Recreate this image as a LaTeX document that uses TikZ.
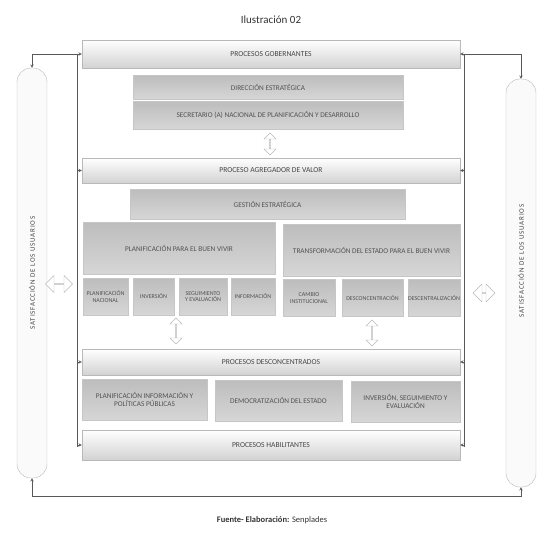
\documentclass[tikz,border=0pt]{standalone}
\usepackage{fontspec}
\setmainfont{Carlito}
\usetikzlibrary{shapes.arrows, arrows, positioning}
\tikzstyle{band} = [rectangle, minimum width=378pt, draw=gray!55, top color=white, middle color=white, bottom color=gray!35, text=black!72, font=\fontsize{7.6}{8}\selectfont, inner sep=0pt]
\tikzstyle{box} = [rectangle, draw=gray!45, top color=gray!52, bottom color=gray!32, text=black!68, align=center, inner sep=1pt, font=\fontsize{7.3}{8}\selectfont]
\tikzstyle{small} = [box, minimum height=37pt, inner sep=0pt, font=\fontsize{6}{6.8}\selectfont]
\tikzstyle{wide} = [box, minimum height=41pt, font=\fontsize{7.3}{8.8}\selectfont]
\tikzstyle{pill} = [rectangle, rounded corners=14pt, minimum width=30pt, draw=gray!55, fill=gray!4]
\tikzstyle{sidetext} = [rotate=90, text=black!72, font=\fontsize{7}{8}\selectfont\addfontfeatures{LetterSpace=12}]
\tikzstyle{twoway} = [double arrow, draw=gray!55, fill=white, inner sep=0pt, double arrow head extend=2.5pt]
\tikzstyle{arrow} = [->, >=stealth, draw=black!65, line width=0.5pt]

\begin{document}
\begin{tikzpicture}[x=1pt, y=-1pt]
    \useasboundingbox (0,0) rectangle (538,546);

    \node (title) at (271,20) [font=\fontsize{11}{12}\selectfont, text=black!80] {Ilustración 02};

    % bands
    \node (gob) [band, minimum height=28pt] at (271,54) {PROCESOS GOBERNANTES};
    \node (agr) [band, minimum height=25pt] at (271,170.5) {PROCESO AGREGADOR DE VALOR};
    \node (dsc) [band, minimum height=26pt] at (271,362) {PROCESOS DESCONCENTRADOS};
    \node (hab) [band, minimum height=30pt] at (271,445) {PROCESOS HABILITANTES};

    % procesos gobernantes
    \node (dir) [box, minimum width=270pt, minimum height=24pt] at (268,87) {DIRECCIÓN ESTRATÉGICA};
    \node (sec) [box, minimum width=270pt, minimum height=28pt] at (268,115) {SECRETARIO (A) NACIONAL DE PLANIFICACIÓN Y DESARROLLO};
    \node (ud1) [twoway, rotate=90, minimum height=22pt, minimum width=12pt] at (270,144) {};

    % agregador de valor
    \node (ges) [box, minimum width=275pt, minimum height=30pt] at (267.5,204) {GESTIÓN ESTRATÉGICA};
    \node (pbv) [box, minimum width=192pt, minimum height=52pt] at (179,248) {PLANIFICACIÓN PARA EL BUEN VIVIR};
    \node (tbv) [box, minimum width=177pt, minimum height=52pt] at (371.5,250) {TRANSFORMACIÓN DEL ESTADO PARA EL BUEN VIVIR};

    \node (pn) [small, minimum width=45pt] at (105.5,296.5) {PLANIFICACIÓN\\NACIONAL};
    \node (inv) [small, minimum width=41pt] at (153.5,296.5) {INVERSIÓN};
    \node (seg) [small, minimum width=48pt] at (203,296.5) {SEGUIMIENTO\\Y EVALUACIÓN};
    \node (inf) [small, minimum width=44pt] at (253,296.5) {INFORMACIÓN};
    \node (cam) [small, minimum width=52pt] at (309,298) {CAMBIO\\INSTITUCIONAL};
    \node (dcn) [small, minimum width=61pt] at (372.5,298) {DESCONCENTRACIÓN};
    \node (dcz) [small, minimum width=52pt] at (434,298) {DESCENTRALIZACIÓN};

    \node (ud2) [twoway, rotate=90, minimum height=26pt, minimum width=12pt] at (176,331) {};
    \node (ud3) [twoway, rotate=90, minimum height=26pt, minimum width=12pt] at (372,333) {};

    % desconcentrados
    \node (ppp) [wide, minimum width=125pt] at (144.5,399.5) {PLANIFICACIÓN INFORMACIÓN Y\\POLÍTICAS PÚBLICAS};
    \node (dem) [wide, minimum width=127pt] at (278.5,400.5) {DEMOCRATIZACIÓN DEL ESTADO};
    \node (isv) [wide, minimum width=109pt] at (405.5,401.5) {INVERSIÓN, SEGUIMIENTO Y\\EVALUACIÓN};

    % usuarios
    \node (lpill) [pill, minimum height=410pt] at (32,273) {};
    \node [sidetext] at (lpill) {SATISFACCIÓN DE LOS USUARIOS};
    \node (rpill) [pill, minimum height=408pt] at (521,283) {};
    \node [sidetext] at ([yshift=22pt]rpill.center) {SATISFACCIÓN DE LOS USUARIOS};

    \node (lr1) [twoway, minimum height=27pt, minimum width=17pt] at (59,284) {};
    \node (lr2) [twoway, minimum height=22pt, minimum width=18pt] at (484,293) {};

    % frame lines
    \coordinate (lt) at (77,54);
    \coordinate (lb) at (77,447);
    \coordinate (rt) at (464,54);
    \coordinate (rb) at (464,447);
    \coordinate (bl) at (32,496);

    \draw [arrow, -] (lt) -- (lb);
    \draw [arrow, -] (rt) -- (rb);
    \draw [arrow] (lt) -- (gob.west);
    \draw [arrow] (lt) -| (lpill.north);
    \draw [arrow] (rt) -- (gob.east);
    \draw [arrow] (rt) -| (rpill.north);
    \draw [arrow] (agr.west -| lt) -- (agr.west);
    \draw [arrow] (agr.east -| rt) -- (agr.east);
    \draw [arrow] (dsc.west -| lt) -- (dsc.west);
    \draw [arrow] (dsc.east -| rt) -- (dsc.east);
    \draw [arrow] (hab.west -| lt) -- (hab.west);
    \draw [arrow] (hab.east -| rt) -- (hab.east);
    \draw [arrow] (bl) -- (lpill.south);
    \draw [arrow] (bl) -| (rpill.south);

    \node (src) at (272,520) [font=\fontsize{8.5}{9}\selectfont, text=black!80] {\textbf{Fuente- Elaboración:} Senplades};
\end{tikzpicture}
\end{document}
